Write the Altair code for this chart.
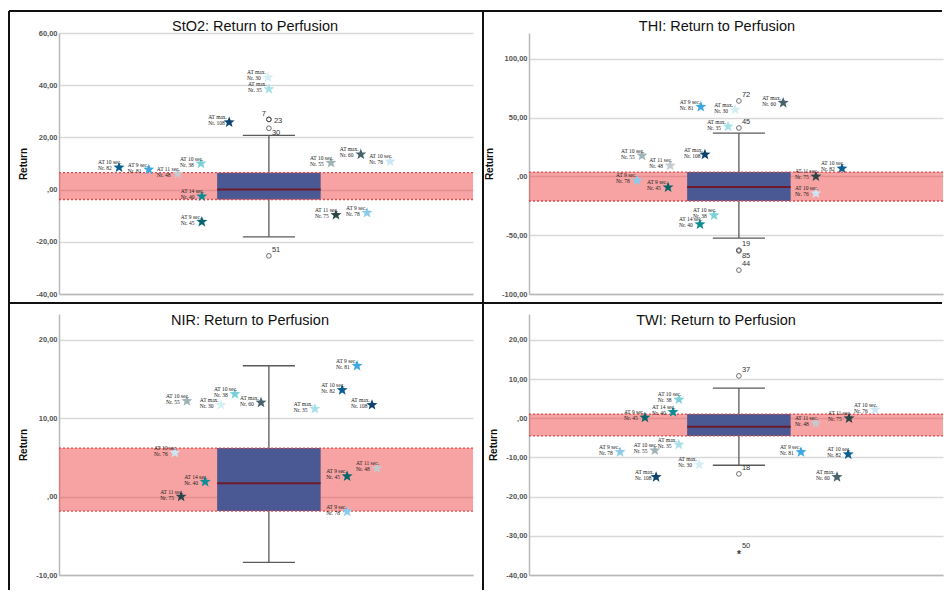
import math
import altair as alt
import pandas as pd

# Patients highlighted as stars (same order in every panel)
patients = [82, 81, 48, 38, 40, 45, 108, 30, 35, 55, 60, 76, 75, 78]
at_times = ["AT 10 sec.", "AT 9 sec.", "AT 11 sec.", "AT 10 sec.", "AT 14 sec.",
            "AT 9 sec.", "AT max.", "AT max.", "AT max.", "AT 10 sec.",
            "AT max.", "AT 10 sec.", "AT 11 sec.", "AT 9 sec."]
patient_colors = ["#0b5e92", "#3ea8de", "#c3cacd", "#7cd0d8", "#0f8c93",
                  "#07666b", "#0c426b", "#d3eff3", "#a7e0e6", "#a0b3b7",
                  "#48626a", "#cbe7f6", "#2c4548", "#8ccbeb"]

# StO2
sto2_values = [8.5, 7.7, 6.1, 10.0, -2.6, -12.3, 25.8, 43.0, 38.5, 10.3, 13.5, 10.8, -9.7, -8.9]
sto2_slots = [14.5, 21.7, 28.7, 34.3, 34.5, 34.5, 41.1, 50.5, 50.7, 65.7, 72.9, 80.0, 66.9, 74.4]
sto2_box = [-18.1, -3.8, 0.0, 6.5, 20.8]          # whisker low, Q1, median, Q3, whisker high
sto2_out_ids = ["7", "23", "30", "51"]
sto2_out_vals = [26.9, 26.9, 23.5, -25.4]
sto2_out_side = ["left", "mid", "below", "above"]
sto2_extreme_ids = []
sto2_extreme_vals = []

# THI
thi_values = [6.8, 59.3, 9.3, -33.0, -40.7, -9.3, 18.6, 56.8, 42.4, 17.8, 62.7, -14.4, 0.0, -3.4]
thi_slots = [75.6, 41.5, 34.1, 44.7, 41.3, 33.6, 42.5, 49.8, 48.1, 27.3, 61.4, 69.3, 69.3, 26.1]
thi_box = [-52.4, -20.9, -9.0, 3.7, 36.9]
thi_out_ids = ["72", "45", "19", "85", "44"]
thi_out_vals = [64.2, 41.2, -62.6, -63.4, -79.7]
thi_out_side = ["above", "above", "above", "below", "above"]
thi_extreme_ids = []
thi_extreme_vals = []

# NIR
nir_values = [13.6, 16.7, 3.6, 13.1, 1.9, 2.6, 11.7, 11.7, 11.2, 12.2, 12.0, 5.6, 0.0, -1.9]
nir_slots = [68.4, 72.0, 76.8, 42.5, 35.3, 69.6, 75.6, 39.1, 61.8, 30.9, 48.8, 28.0, 29.5, 69.6]
nir_box = [-8.4, -1.85, 1.72, 6.2, 16.7]
nir_out_ids = []
nir_out_vals = []
nir_out_side = []
nir_extreme_ids = []
nir_extreme_vals = []

# TWI
twi_values = [-9.2, -8.6, -1.3, 4.8, 1.6, 0.2, -15.0, -11.8, -6.7, -8.2, -15.0, 2.2, 0.0, -8.6]
twi_slots = [77.1, 65.7, 69.3, 36.2, 34.8, 28.0, 30.7, 41.1, 36.2, 30.4, 74.4, 83.6, 77.3, 22.0]
twi_box = [-12.0, -4.5, -2.2, 1.07, 7.7]
twi_out_ids = ["37", "18"]
twi_out_vals = [10.8, -14.2]
twi_out_side = ["above", "above"]
twi_extreme_ids = ["50"]
twi_extreme_vals = [-34.2]

# ---- drawing settings ----
W, H = 414, 261
BOX_C, BOX_HALF, CAP_HALF = 50.7, 12.5, 6.3

def star_path(points=5, inner=0.42):
    coords = []
    for k in range(2 * points):
        r = 1.0 if k % 2 == 0 else inner
        a = math.pi / points * k - math.pi / 2
        coords.append(f"{r * math.cos(a):.3f},{r * math.sin(a):.3f}")
    return "M" + " L".join(coords) + " Z"

STAR = star_path()

LABEL_EXPR = ("datum.value == 0 ? ',00' : "
              "replace(replace(format(datum.value, '.2f'), '.', ','), '\u2212', '-')")

SIDE_STYLE = {
    "above": dict(dx=3, dy=-6, align="left"),
    "below": dict(dx=3, dy=5, align="left"),
    "mid": dict(dx=5, dy=2, align="left"),
    "left": dict(dx=-3, dy=-5, align="right"),
}


def panel(title, values, slots, box, out_ids, out_vals, out_side, ext_ids, ext_vals,
          domain, ticks, title_x, title_y, frame=False):
    xscale = alt.Scale(domain=[0, 100], nice=False, zero=False)
    yscale = alt.Scale(domain=domain, nice=False, zero=False)
    xaxis = alt.Axis(labels=False, ticks=False, grid=False, title=None,
                     domainColor="#b9b9b9", domainWidth=1.5)
    yaxis = alt.Axis(values=ticks, labelExpr=LABEL_EXPR, title="Return",
                     grid=True, gridColor="#d9d9d9", gridWidth=1.5,
                     domainColor="#b9b9b9", domainWidth=1.5, ticks=False,
                     labelFont="Liberation Sans", labelFontSize=7.5,
                     labelFontWeight="bold", labelColor="#555555", labelPadding=2,
                     titleFont="Liberation Sans", titleFontSize=10,
                     titleFontWeight="bold", titleColor="#111111", titlePadding=7)

    def X(f):
        return alt.X(f"{f}:Q", scale=xscale, axis=xaxis)

    def Y(f):
        return alt.Y(f"{f}:Q", scale=yscale, axis=yaxis)

    lo, q1, med, q3, hi = box
    stats = pd.DataFrame({
        "lo": [lo], "q1": [q1], "med": [med], "q3": [q3], "hi": [hi],
        "c": [BOX_C], "bl": [BOX_C - BOX_HALF], "br": [BOX_C + BOX_HALF],
        "cl": [BOX_C - CAP_HALF], "cr": [BOX_C + CAP_HALF],
    })
    stars = pd.DataFrame({
        "slot": slots, "value": values,
        "patient": [str(p) for p in patients],
        "at": at_times, "nr": [f"Nr. {p}" for p in patients],
    })
    base = alt.Chart(stats)

    layers = [
        # reference band over the interquartile range
        base.mark_rect(color="#f03c3c", opacity=0.47).encode(
            x=alt.value(0), x2=alt.value(W), y=Y("q1"), y2=alt.Y2("q3")),
        # whisker and caps
        base.mark_rule(color="#5a5a5a", strokeWidth=1.3).encode(
            x=X("c"), y=Y("lo"), y2=alt.Y2("hi")),
        base.mark_rule(color="#5a5a5a", strokeWidth=1.3).encode(
            x=X("cl"), x2=alt.X2("cr"), y=Y("lo")),
        base.mark_rule(color="#5a5a5a", strokeWidth=1.3).encode(
            x=X("cl"), x2=alt.X2("cr"), y=Y("hi")),
        # box
        base.mark_rect(color="#4a5893").encode(
            x=X("bl"), x2=alt.X2("br"), y=Y("q1"), y2=alt.Y2("q3")),
        # dotted band limits
        base.mark_rule(color="#e8474a", strokeWidth=1.3, strokeDash=[2, 2]).encode(
            x=alt.value(0), x2=alt.value(W), y=Y("q1")),
        base.mark_rule(color="#e8474a", strokeWidth=1.3, strokeDash=[2, 2]).encode(
            x=alt.value(0), x2=alt.value(W), y=Y("q3")),
        # median
        base.mark_rule(color="#6d1b2b", strokeWidth=2).encode(
            x=X("bl"), x2=alt.X2("br"), y=Y("med")),
    ]

    if out_ids:
        outl = pd.DataFrame({"c": [BOX_C] * len(out_ids), "value": out_vals,
                             "id": out_ids, "side": out_side})
        layers.append(alt.Chart(outl).mark_point(
            shape="circle", filled=False, size=22, color="#333333", strokeWidth=1
        ).encode(x=X("c"), y=Y("value")))
        for side in sorted(set(out_side)):
            st = SIDE_STYLE[side]
            layers.append(alt.Chart(outl).transform_filter(
                alt.datum.side == side
            ).mark_text(font="Liberation Sans", fontSize=7.5, color="#333333",
                        baseline="middle", **st).encode(
                x=X("c"), y=Y("value"), text="id:N"))

    if ext_ids:
        ext = pd.DataFrame({"c": [BOX_C] * len(ext_ids), "value": ext_vals, "id": ext_ids})
        layers.append(alt.Chart(ext).mark_text(
            text="*", font="Liberation Sans", fontSize=10, fontWeight="bold",
            color="#333333", baseline="middle", dy=3
        ).encode(x=X("c"), y=Y("value")))
        layers.append(alt.Chart(ext).mark_text(
            font="Liberation Sans", fontSize=7.5, color="#333333",
            baseline="middle", **SIDE_STYLE["above"]
        ).encode(x=X("c"), y=Y("value"), text="id:N"))

    star_chart = alt.Chart(stars)
    layers += [
        star_chart.mark_point(shape=STAR, filled=True, size=134, opacity=1,
                              strokeWidth=0).encode(
            x=X("slot"), y=Y("value"),
            color=alt.Color("patient:N",
                            scale=alt.Scale(domain=[str(p) for p in patients],
                                            range=patient_colors),
                            legend=None)),
        star_chart.mark_text(font="Liberation Serif", fontSize=5.5, color="#222222",
                             align="left", baseline="middle", dx=-21, dy=-5).encode(
            x=X("slot"), y=Y("value"), text="at:N"),
        star_chart.mark_text(font="Liberation Serif", fontSize=5.5, color="#222222",
                             align="left", baseline="middle", dx=-21, dy=1).encode(
            x=X("slot"), y=Y("value"), text="nr:N"),
        alt.Chart(pd.DataFrame({"t": [title]})).mark_text(
            font="Liberation Sans", fontSize=14.5, color="#111111",
            align="center", baseline="alphabetic").encode(
            x=alt.value(title_x), y=alt.value(title_y), text="t:N"),
    ]

    if frame:
        # black frame separating the four panels
        segs = [(-50, 883, -22, -22), (-50, -50, -22, 557),
                (424, 424, -22, 557), (-50, 883, 270, 270)]
        for x1, x2, y1, y2 in segs:
            layers.append(alt.Chart(pd.DataFrame({"k": [0]})).mark_rule(
                color="#111111", strokeWidth=2).encode(
                x=alt.value(x1), x2=alt.value(x2), y=alt.value(y1), y2=alt.value(y2)))

    return alt.layer(*layers).properties(width=W, height=H)


p_sto2 = panel("StO2: Return to Perfusion", sto2_values, sto2_slots, sto2_box,
               sto2_out_ids, sto2_out_vals, sto2_out_side, sto2_extreme_ids, sto2_extreme_vals,
               [-40, 60], [-40, -20, 0, 20, 40, 60], 196, -2, frame=True)
p_thi = panel("THI: Return to Perfusion", thi_values, thi_slots, thi_box,
              thi_out_ids, thi_out_vals, thi_out_side, thi_extreme_ids, thi_extreme_vals,
              [-100, 122], [-100, -50, 0, 50, 100], 188, -2)
p_nir = panel("NIR: Return to Perfusion", nir_values, nir_slots, nir_box,
              nir_out_ids, nir_out_vals, nir_out_side, nir_extreme_ids, nir_extreme_vals,
              [-10, 23.3], [-10, 0, 10, 20], 191, 11)
p_twi = panel("TWI: Return to Perfusion", twi_values, twi_slots, twi_box,
              twi_out_ids, twi_out_vals, twi_out_side, twi_extreme_ids, twi_extreme_vals,
              [-40, 26.6], [-40, -30, -20, -10, 0, 10, 20], 187, 11)

chart = alt.concat(
    p_sto2, p_thi, p_nir, p_twi,
    columns=2, spacing={"row": 20, "column": 56}, bounds="flush"
).properties(
    padding={"left": 8, "top": 10, "right": 0, "bottom": 0},
    background="white",
).configure_view(stroke=None)

chart.save("out.html", embed_options={"renderer": "svg", "actions": False})
